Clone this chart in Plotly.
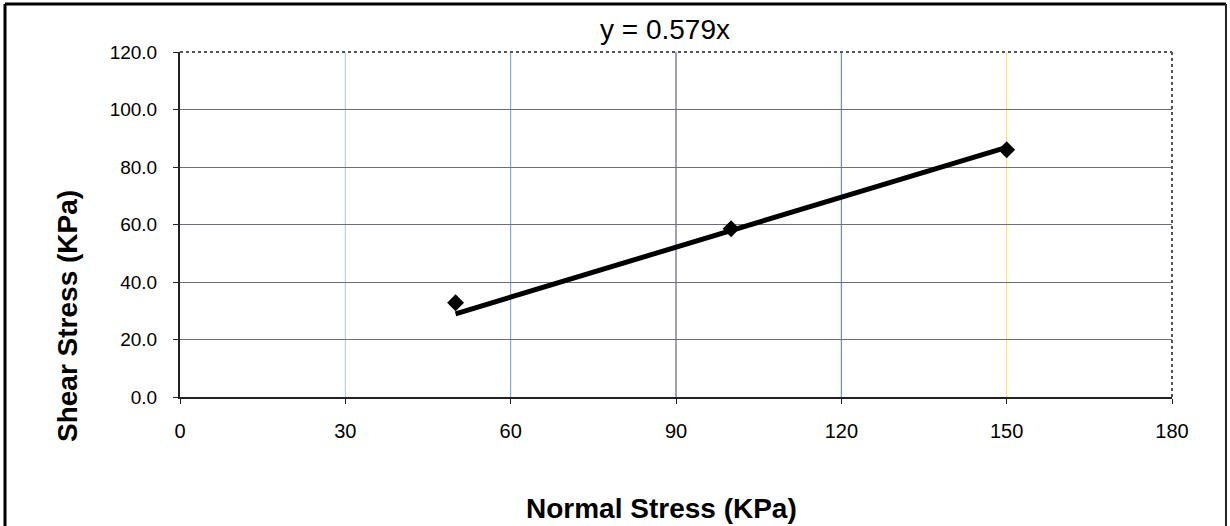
import plotly.graph_objects as go

# Data
normal_stress = [50, 100, 150]
shear_stress = [32.8, 58.5, 86.0]
slope = 0.579
x_ticks = [0, 30, 60, 90, 120, 150, 180]
y_ticks = [0, 20, 40, 60, 80, 100, 120]
vgrid_colors = ["#9cc8ea", "#6a9ad6", "#4b3f6e", "#4a78c0", "#f2e24a"]

trend_x = [normal_stress[0], normal_stress[-1]]
trend_y = [slope * v for v in trend_x]

fig = go.Figure()
fig.add_trace(go.Scatter(x=trend_x, y=trend_y, mode="lines",
                         line=dict(color="black", width=5), showlegend=False))
fig.add_trace(go.Scatter(x=normal_stress, y=shear_stress, mode="markers",
                         marker=dict(symbol="diamond", size=13, color="black"),
                         showlegend=False))

shapes = []
# vertical gridlines (coloured in the scan)
for xv, c in zip(x_ticks[1:-1], vgrid_colors):
    shapes.append(dict(type="line", xref="x", yref="paper", x0=xv, x1=xv, y0=0, y1=1,
                       line=dict(color=c, width=1), layer="below"))
# outer chart border
shapes.append(dict(type="line", xref="paper", yref="paper", x0=-0.1764, x1=1.0544,
                   y0=1.139, y1=1.139, line=dict(color="black", width=3)))
shapes.append(dict(type="line", xref="paper", yref="paper", x0=-0.1764, x1=-0.1764,
                   y0=-0.40, y1=1.139, line=dict(color="black", width=3)))
shapes.append(dict(type="line", xref="paper", yref="paper", x0=1.0544, x1=1.0544,
                   y0=-0.40, y1=1.139, line=dict(color="#222222", width=2)))
# dotted top / right plot border
shapes.append(dict(type="line", xref="paper", yref="paper", x0=0, x1=1, y0=1, y1=1,
                   line=dict(color="#555555", width=2, dash="dot")))
shapes.append(dict(type="line", xref="paper", yref="paper", x0=1, x1=1, y0=0, y1=1,
                   line=dict(color="#555555", width=2, dash="dot")))

fig.update_layout(
    width=1230, height=526,
    margin=dict(l=180, r=58, t=52, b=129),
    paper_bgcolor="white", plot_bgcolor="white",
    font=dict(family="Liberation Sans, Arial, sans-serif", color="black"),
    shapes=shapes,
    annotations=[
        dict(text="y = 0.579x", xref="paper", yref="paper", x=(665 - 180) / 992,
             y=(397 - 29) / 345, showarrow=False, font=dict(size=28),
             xanchor="center", yanchor="middle"),
        dict(text="<b>Normal Stress (KPa)</b>", xref="paper", yref="paper",
             x=(661 - 180) / 992, y=(397 - 508) / 345, showarrow=False,
             font=dict(size=28), xanchor="center", yanchor="middle"),
        dict(text="<b>Shear Stress (KPa)</b>", xref="paper", yref="paper",
             x=(67 - 180) / 992, y=(397 - 316) / 345, showarrow=False, textangle=-90,
             font=dict(size=28), xanchor="center", yanchor="middle"),
    ],
)
fig.update_xaxes(range=[0, 180], tickvals=x_ticks, showgrid=False, zeroline=False,
                 showline=True, linecolor="#222222", linewidth=2,
                 ticks="outside", ticklen=5, tickcolor="#222222",
                 tickfont=dict(size=20), ticklabelstandoff=10)
fig.update_yaxes(range=[0, 120], tickvals=y_ticks, tickformat=".1f",
                 showgrid=True, gridcolor="#6e6e7a", gridwidth=1, zeroline=False,
                 showline=True, linecolor="#222222", linewidth=2,
                 ticks="outside", ticklen=5, tickcolor="#222222",
                 tickfont=dict(size=19), ticklabelstandoff=12)

fig.write_html("out.html", config={"displayModeBar": False},
               post_script="document.body.style.margin='0px';")
